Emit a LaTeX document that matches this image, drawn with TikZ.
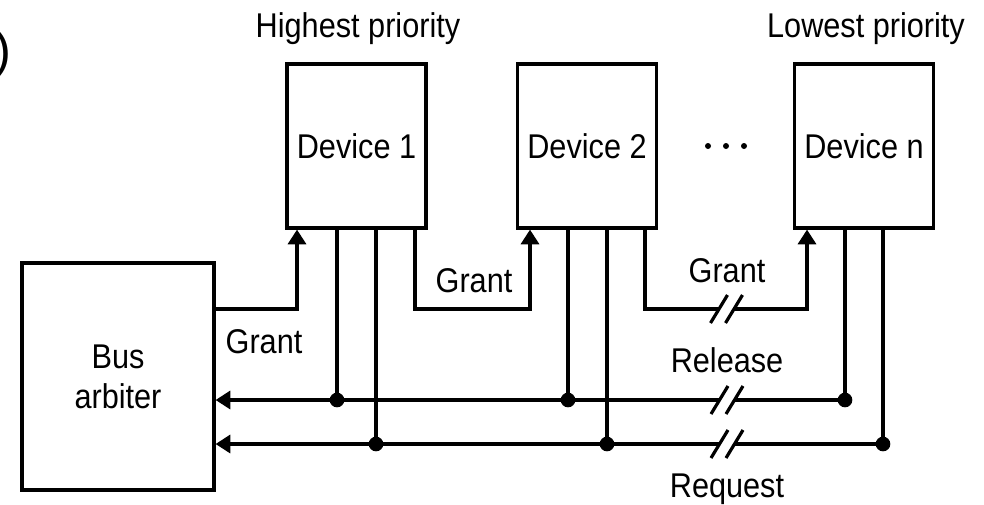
\documentclass[tikz,border=0pt]{standalone}
\usepackage{fontspec}
\usepackage{graphicx}
\setmainfont{Liberation Sans}
\usetikzlibrary{arrows.meta}
\newcommand\dgfont{\fontsize{23}{30}\selectfont}
\newcommand\tall[1]{\scalebox{1}[1.12]{#1}}
\begin{document}
\begin{tikzpicture}[x=0.75pt,y=-0.75pt, line width=2.4pt,
  box/.style={draw, line width=2.4pt, inner sep=0pt, minimum width={139*0.75pt}, minimum height={164*0.75pt}, font=\dgfont},
  lbl/.style={inner sep=0pt, anchor=base, font=\dgfont},
  arr/.style={-{Triangle[length=11pt,width=13.5pt]}},
  jdot/.style={circle, fill, inner sep=0pt, minimum size=11pt},
  brk/.pic={
    \fill[white] (-7.5,-3) rectangle (7.5,3);
    \draw (-16,14) -- (1,-14);
    \draw (-1,14) -- (16,-14);
  }]
\useasboundingbox (0,0) rectangle (984,504);

% boxes
\node[draw, line width=2.4pt, inner sep=0pt, minimum width={192*0.75pt}, minimum height={227*0.75pt}, align=center, font=\dgfont] (arb) at (118,376.5) {\tall{Bus}\\\tall{arbiter}};
\node[box] (d1) at (356.5,146) {\tall{Device 1}};
\node[box] (d2) at (587,146) {\tall{Device 2}};
\node[box] (dn) at (864,146) {\tall{Device n}};

% ellipsis
\node[jdot, minimum size=4.5pt] (e1) at (708,146) {};
\node[jdot, minimum size=4.5pt] (e2) at (726,146) {};
\node[jdot, minimum size=4.5pt] (e3) at (744,146) {};

% labels
\node[lbl, font=\fontsize{38}{40}\selectfont, anchor=base east] (pa) at (13,67) {)};
\node[lbl] (hp) at (358,37) {\tall{Highest priority}};
\node[lbl] (lp) at (866,37) {\tall{Lowest priority}};
\node[lbl] (g1) at (264,353) {\tall{Grant}};
\node[lbl] (g2) at (474,292) {\tall{Grant}};
\node[lbl] (g3) at (727,282) {\tall{Grant}};
\node[lbl] (rl) at (727,372) {\tall{Release}};
\node[lbl] (rq) at (727,497) {\tall{Request}};

% grant chain
\draw[arr] (arb.east |- 0,309) -| (d1.south -| 297,0);
\draw[arr] (d1.south -| 415,0) |- (530,309) -- (d2.south -| 530,0);
\draw[arr] (d2.south -| 645,0) |- (807,309) -- (dn.south -| 807,0);

% release bus
\draw[arr] (dn.south -| 845,0) |- (arb.east |- 0,400);
\draw (d1.south -| 337,0) -- (337,400);
\draw (d2.south -| 568,0) -- (568,400);
\node[jdot] (r1) at (337,400) {};
\node[jdot] (r2) at (568,400) {};
\node[jdot] (r3) at (845,400) {};

% request bus
\draw[arr] (dn.south -| 883,0) |- (arb.east |- 0,444);
\draw (d1.south -| 376,0) -- (376,444);
\draw (d2.south -| 607,0) -- (607,444);
\node[jdot] (q1) at (376,444) {};
\node[jdot] (q2) at (607,444) {};
\node[jdot] (q3) at (883,444) {};

% breaks
\pic at (726.5,309) {brk};
\pic at (727,400) {brk};
\pic at (727,444) {brk};
\end{tikzpicture}
\end{document}
